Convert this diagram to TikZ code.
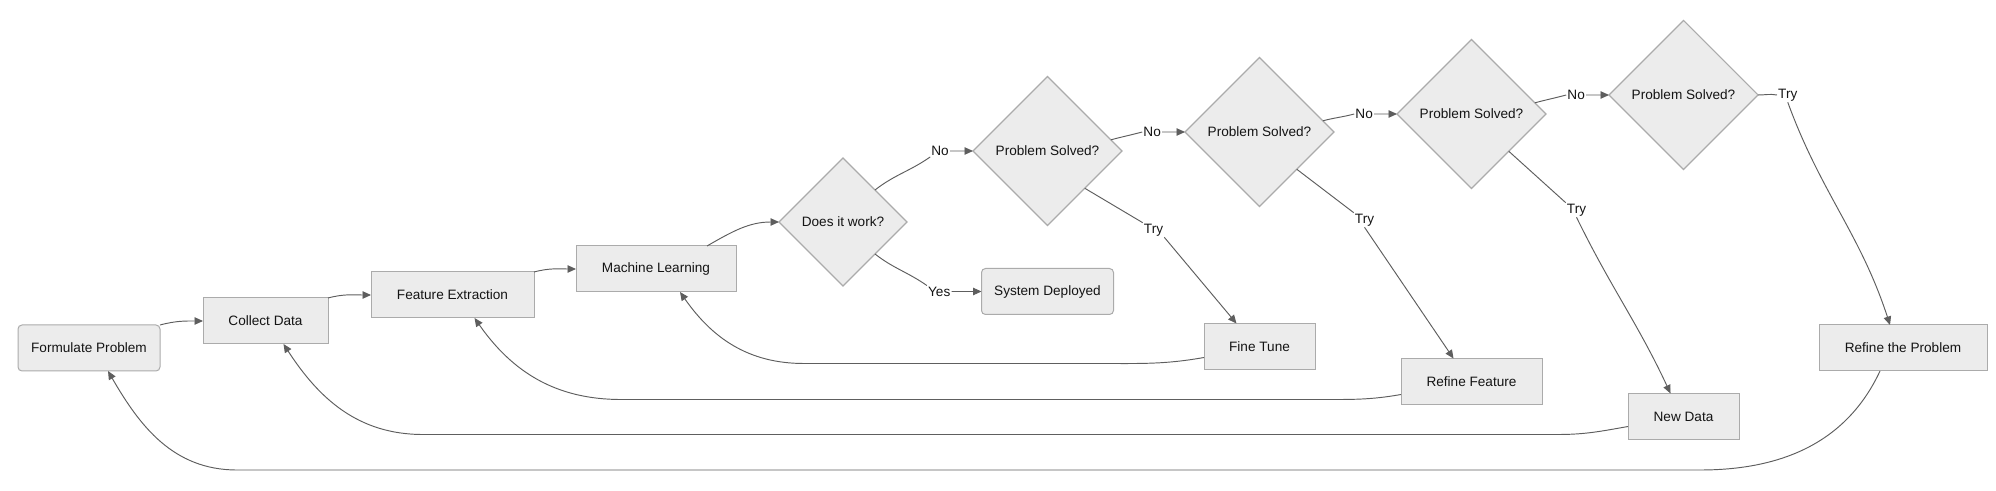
\documentclass[tikz,border=0pt]{standalone}
\usepackage{fontspec}
\setmainfont{Liberation Sans}
\usetikzlibrary{positioning, shapes.geometric, arrows.meta}

\definecolor{nodefill}{HTML}{ECECEC}
\definecolor{nodeline}{HTML}{ABABAB}
\definecolor{linkline}{HTML}{5E5E5E}
\definecolor{labeltext}{HTML}{141414}

\begin{document}
\begin{tikzpicture}[x=1pt, y=1pt
    , every node/.style={font=\fontsize{13.6pt}{16pt}\selectfont, text=labeltext}
    , box/.style={rectangle, draw=nodeline, fill=nodefill, line width=1pt, minimum height=46pt, inner sep=0pt, outer sep=0pt}
    , roundbox/.style={box, rounded corners=4pt}
    , question/.style={diamond, aspect=1, draw=nodeline, fill=nodefill, line width=1.1pt, minimum size=149pt, inner sep=0pt, outer sep=0pt}
    , lbl/.style={inner sep=1pt}
    , link/.style={draw=linkline, line width=0.95pt, -{Triangle[length=8.5pt,width=7.5pt]}}
    ]
    \useasboundingbox (0,0) rectangle (1996,490);

    % main chain, one rank up each time
    \node[roundbox, minimum width=142pt] (FP) at (89,142) {Formulate Problem};
    \node[box, minimum width=125pt, right=43pt of FP, yshift=27pt] (CD) {Collect Data};
    \node[box, minimum width=163pt, right=43pt of CD, yshift=26pt] (FE) {Feature Extraction};
    \node[box, minimum width=160pt, right=42pt of FE, yshift=26pt] (ML) {Machine Learning};
    \node[question, minimum size=128pt, right=43pt of ML, yshift=47pt] (DIW) {Does it work?};

    \node[question, right=66pt of DIW, yshift=71pt] (PS1) {Problem Solved?};
    \node[roundbox, minimum width=132pt, below=43pt of PS1] (SD) {System Deployed};
    \node[question, right=63pt of PS1, yshift=19pt] (PS2) {Problem Solved?};
    \node[box, minimum width=111pt, below=117pt of PS2] (FT) {Fine Tune};
    \node[question, right=63pt of PS2, yshift=18pt] (PS3) {Problem Solved?};
    \node[box, minimum width=141pt, below=170pt of PS3] (RF) {Refine Feature};
    \node[question, right=63pt of PS3, yshift=19pt] (PS4) {Problem Solved?};
    \node[box, minimum width=111pt, below=224pt of PS4] (ND) {New Data};
    \node[box, minimum width=168pt, right=61pt of PS4, yshift=-253pt] (RtP) {Refine the Problem};

    % edge labels
    \node[lbl, left=23pt of PS1] (no1) {No};
    \node[lbl, left=30pt of SD] (yes1) {Yes};
    \node[lbl, left=23pt of PS2] (no2) {No};
    \node[lbl, left=23pt of PS3] (no3) {No};
    \node[lbl, left=23pt of PS4] (no4) {No};
    \node[lbl, xshift=106pt, yshift=-79pt] (try1) at (PS1) {Try};
    \node[lbl, xshift=105pt, yshift=-88pt] (try2) at (PS2) {Try};
    \node[lbl, xshift=105pt, yshift=-96pt] (try3) at (PS3) {Try};
    \node[lbl, right=19pt of PS4] (try4) {Try};

    \draw[link] (FP.north east) to[out=15,in=180] (CD.west);
    \draw[link] (CD.north east) to[out=15,in=180] (FE.west);
    \draw[link] (FE.north east) to[out=15,in=180] (ML.west);
    \draw[link] ([xshift=-29pt]ML.north east) to[out=30,in=180] (DIW.west);

    \draw[link] (DIW.north east) to[out=38,in=215] (no1.south west) (no1.east) -- (PS1.west);
    \draw[link] (DIW.south east) to[out=-38,in=145] (yes1.north west) (yes1.east) -- (SD.west);

    \draw[link] (PS1.10) to[out=15,in=195] (no2.west) (no2.east) -- (PS2.west);
    \draw[link] (PS2.10) to[out=15,in=195] (no3.west) (no3.east) -- (PS3.west);
    \draw[link] (PS3.10) to[out=15,in=195] (no4.west) (no4.east) -- (PS4.west);

    \draw[link] (PS1.south east) -- (try1.north west)
        (try1.south east) -- ([xshift=-23pt]FT.north);
    \draw[link] (PS2.south east) -- (try2.north west)
        (try2.south) -- ([xshift=-18pt]RF.north);
    \draw[link] (PS3.south east) -- (try3.north west)
        (try3.south) to[out=-64,in=115] ([xshift=-13pt]ND.north);
    \draw[link] (PS4.east) to[out=0,in=170] (try4.west)
        (try4.south) to[out=-70,in=108] ([xshift=-13pt]RtP.north);

    % back to earlier steps
    \draw[link] ([yshift=-11pt]FT.west) to[out=190,in=0] ++(-100pt,-6pt)
        -- ++(-300pt,0pt) to[out=180,in=-55] ([xshift=24pt]ML.south);
    \draw[link] ([yshift=-13pt]RF.west) to[out=190,in=0] ++(-80pt,-5pt)
        -- ++(-700pt,0pt) to[out=180,in=-55] ([xshift=22pt]FE.south);
    \draw[link] ([yshift=-10pt]ND.west) to[out=190,in=0] ++(-70pt,-8pt)
        -- ++(-1135pt,0pt) to[out=180,in=-57] ([xshift=18pt]CD.south);
    \draw[link] ([xshift=-23pt]RtP.south) to[out=-115,in=0] ++(-180pt,-99pt)
        -- ++(-1463pt,0pt) to[out=180,in=-60] ([xshift=19pt]FP.south);

\end{tikzpicture}
\end{document}
